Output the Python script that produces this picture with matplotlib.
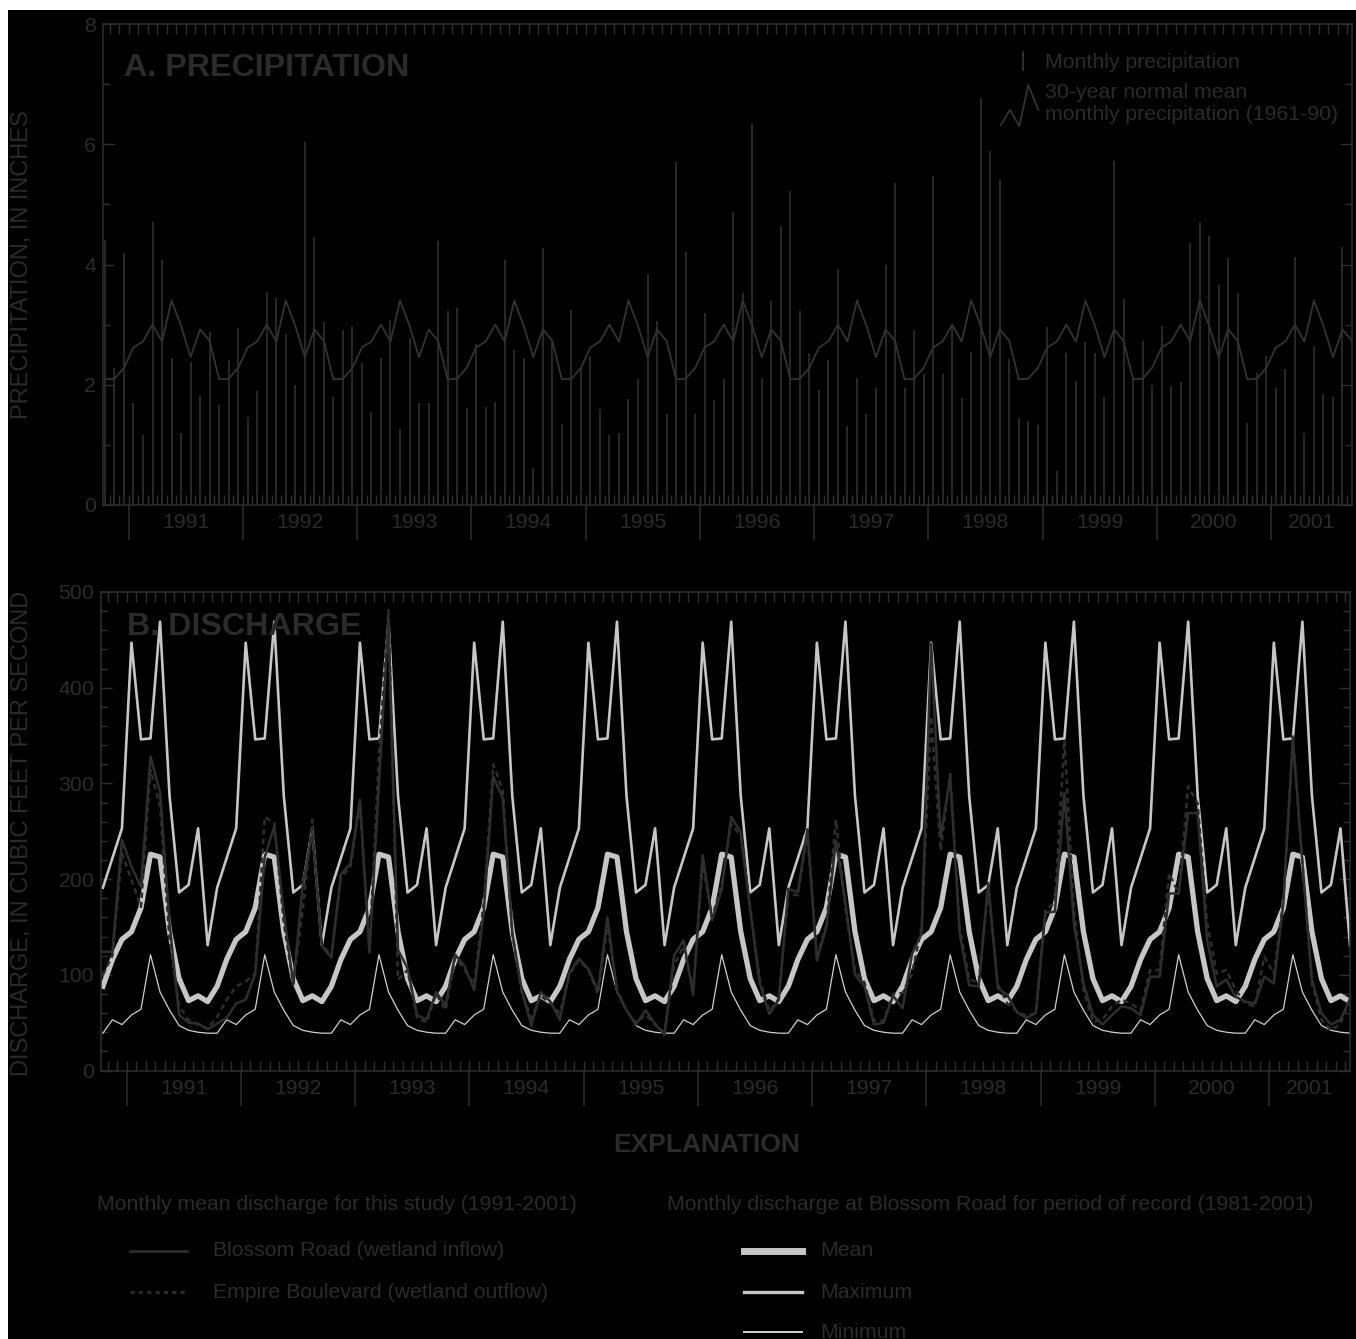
import numpy as np
import matplotlib
matplotlib.use('Agg')
import matplotlib.pyplot as plt
from matplotlib.patches import Rectangle
from matplotlib.lines import Line2D
import matplotlib.transforms as mtransforms

# ---------------- data ----------------
# month index: 0 = Oct 1990 ... 131 = Sep 2001
years = [1991, 1992, 1993, 1994, 1995, 1996, 1997, 1998, 1999, 2000, 2001]

precip = [4.40, 2.28, 4.19, 1.70, 1.17, 4.70, 4.08, 2.44, 1.20, 2.38, 1.81, 2.87,
          1.66, 2.41, 2.94, 1.47, 1.89, 3.54, 3.44, 2.84, 1.99, 6.04, 4.46, 3.04,
          1.79, 2.91, 2.98, 2.36, 1.55, 2.45, 3.08, 1.26, 2.77, 1.69, 1.69, 4.39,
          3.22, 3.28, 1.61, 2.68, 1.63, 1.71, 4.08, 2.57, 2.44, 0.62, 4.28, 2.72,
          1.35, 3.25, 2.29, 2.47, 1.59, 1.16, 1.19, 1.77, 2.09, 3.85, 3.06, 1.51,
          5.71, 4.21, 1.51, 3.19, 1.74, 2.09, 4.87, 3.52, 6.33, 2.11, 3.40, 4.64,
          5.23, 3.23, 2.52, 1.91, 2.41, 3.93, 1.32, 2.12, 1.52, 1.95, 4.00, 5.36,
          1.95, 2.91, 2.18, 5.47, 2.18, 3.00, 1.78, 2.54, 6.77, 5.89, 5.41, 2.43,
          1.44, 1.40, 1.33, 2.96, 0.57, 2.53, 2.07, 2.71, 2.52, 1.79, 5.72, 3.42,
          2.08, 2.73, 1.99, 2.97, 1.98, 2.04, 4.35, 4.70, 4.48, 3.66, 4.11, 3.53,
          1.36, 2.19, 2.47, 1.95, 2.26, 4.13, 1.20, 2.64, 1.85, 1.80, 4.29]

# 30-year normal mean monthly precipitation, Oct..Sep
normal_precip = [2.09, 2.10, 2.28, 2.62, 2.72, 3.00, 2.72, 3.40, 2.98, 2.46, 2.92, 2.73]

# period-of-record monthly discharge statistics at Blossom Road, Oct..Sep
record_max = [191, 222, 253, 447, 346, 347, 469, 287, 186, 194, 253, 131]
record_mean = [88, 116, 137, 145, 170, 226, 223, 145, 96, 73, 78, 72]
record_min = [39, 53, 48, 58, 64, 121, 82, 63, 47, 42, 40, 39]

blossom = [124, 124, 241, 213, 192, 328, 291, 154, 58, 50, 49, 43,
           49, 55, 70, 74, 101, 223, 255, 165, 90, 195, 250, 130,
           118, 205, 216, 283, 123, 300, 472, 126, 107, 58, 53, 82,
           68, 121, 109, 84, 165, 307, 285, 144, 84, 47, 82, 72,
           53, 102, 117, 106, 83, 160, 83, 63, 48, 63, 49, 37,
           120, 136, 79, 225, 157, 189, 265, 249, 168, 91, 59, 74,
           190, 186, 252, 115, 150, 240, 175, 100, 88, 48, 50, 78,
           65, 122, 143, 446, 244, 307, 143, 89, 88, 196, 86, 79,
           61, 55, 60, 165, 166, 290, 154, 91, 58, 48, 58, 67,
           65, 58, 98, 98, 185, 185, 269, 269, 136, 88, 95, 77,
           72, 70, 98, 91, 175, 347, 217, 95, 60, 48, 53, 75]

empire = [100, 120, 227, 199, 171, 314, 276, 136, 67, 53, 48, 44,
          56, 74, 88, 93, 101, 265, 258, 154, 91, 168, 262, 133,
          119, 202, 213, 279, 126, 330, 481, 95, 105, 55, 50, 80,
          63, 118, 105, 90, 175, 320, 293, 143, 80, 55, 78, 70,
          60, 100, 115, 105, 80, 150, 85, 62, 50, 58, 48, 40,
          110, 130, 85, 215, 160, 195, 258, 245, 170, 95, 62, 75,
          185, 183, 248, 120, 152, 262, 168, 105, 92, 52, 52, 80,
          81, 101, 150, 370, 230, 310, 150, 95, 92, 190, 90, 70,
          62, 57, 60, 168, 175, 345, 168, 84, 51, 53, 67, 74,
          70, 63, 105, 105, 206, 185, 297, 279, 154, 101, 105, 84,
          70, 67, 119, 101, 178, 349, 217, 91, 53, 42, 49, 74]

# ---------------- styling ----------------
W, H = 1356, 1339
plt.rcParams['font.family'] = ['Liberation Sans', 'DejaVu Sans']
TXT = '#2b2b2b'
DARK = '#2e2e2e'
LIGHT = '#c6c6c6'
FS = 15.3
FL = 15.35

def fx(x):
    return x / W

def fy(y):
    return 1 - y / H

fig = plt.figure(figsize=(W / 100, H / 100), dpi=100)
fig.patch.set_facecolor('white')
fig.add_artist(Rectangle((fx(8), 0), 1 - fx(8), fy(10), transform=fig.transFigure,
                         facecolor='black', edgecolor='none', zorder=-10))

ax1 = fig.add_axes([fx(103), fy(505), fx(1352) - fx(103), fy(24) - fy(505)])
ax2 = fig.add_axes([fx(101), fy(1070.5), fx(1350) - fx(101), fy(592) - fy(1070.5)])

n_months = len(blossom)
months = np.arange(n_months)
xmin, xmax = -0.2, 131.0
year_bounds = [2.5 + 12 * j for j in range(len(years))]
month_bounds = np.arange(0.5, 131, 1.0)

# ---- Panel A: precipitation ----
ax1.vlines(np.arange(len(precip)), 0, precip, color='#333333', lw=1.1)
normal_series = np.tile(normal_precip, n_months // 12)
ax1.plot(months, normal_series, color='#333333', lw=1.3)
ax1.set_ylim(0, 8)
ax1.set_yticks([0, 2, 4, 6, 8])
ax1.set_yticks([1, 3, 5, 7], minor=True)

# ---- Panel B: discharge ----
ax2.plot(months, np.tile(record_max, n_months // 12), color=LIGHT, lw=1.9, zorder=2)
ax2.plot(months, np.tile(record_mean, n_months // 12), color=LIGHT, lw=3.8, zorder=2)
ax2.plot(months, np.tile(record_min, n_months // 12), color='#d0d0d0', lw=0.9, zorder=2)
ax2.plot(months, empire, color=DARK, lw=1.8, linestyle=(0, (2.2, 1.6)), zorder=3)
ax2.plot(months, blossom, color=DARK, lw=1.8, zorder=3)
ax2.set_ylim(0, 500)
ax2.set_yticks(np.arange(0, 501, 100))
ax2.set_yticks(np.arange(0, 501, 20), minor=True)

for ax, ylab_y in ((ax1, 522), (ax2, 1088)):
    ax.set_facecolor('none')
    ax.set_xlim(xmin, xmax)
    for s in ax.spines.values():
        s.set_color(DARK)
        s.set_linewidth(1.1)
    ax.xaxis.remove_overlapping_locs = False
    ax.set_xticks(year_bounds)
    ax.set_xticks(month_bounds, minor=True)
    ax.tick_params(axis='x', which='major', direction='out', length=25, width=1.1,
                   color=DARK, bottom=True, top=False, labelbottom=False)
    ax.tick_params(axis='x', which='minor', direction='in', length=7, width=1.0,
                   color=DARK, bottom=True, top=True)
    ax.tick_params(axis='y', which='both', direction='in', left=True, right=True,
                   color=DARK, width=1.0, labelcolor=TXT, labelsize=FS, pad=5)
    ax.tick_params(axis='y', which='major', length=8)
    ax.tick_params(axis='y', which='minor', length=5)
    trans = mtransforms.blended_transform_factory(ax.transData, fig.transFigure)
    for j, yr in enumerate(years):
        lo = year_bounds[j]
        hi = min(lo + 12, xmax)
        ax.text((lo + hi) / 2, fy(ylab_y), str(yr), transform=trans, ha='center',
                va='center', fontsize=FS, color=TXT)

# ---- panel titles and axis labels ----
fig.text(fx(124), fy(76.5), 'A. PRECIPITATION', fontsize=23.2, fontweight='bold',
         color=TXT, ha='left', va='baseline')
fig.text(fx(127), fy(634.5), 'B. DISCHARGE', fontsize=23.2, fontweight='bold',
         color=TXT, ha='left', va='baseline')
fig.text(fx(22), fy(265), 'PRECIPITATION, IN INCHES', rotation=90, fontsize=17,
         color=TXT, ha='center', va='center')
fig.text(fx(22), fy(833), 'DISCHARGE, IN CUBIC FEET PER SECOND', rotation=90,
         fontsize=17, color=TXT, ha='center', va='center')

# ---- precipitation legend ----
fig.add_artist(Line2D([fx(1023), fx(1023)], [fy(52), fy(70)], transform=fig.transFigure,
                      color='#333333', lw=1.3))
fig.text(fx(1045), fy(62), 'Monthly precipitation', fontsize=FS, color=TXT,
         ha='left', va='center')
zx = np.array([1000.7, 1010, 1019.3, 1028.3, 1038.3])
zy = np.array([125, 110, 126, 85, 110])
fig.add_artist(Line2D(fx(zx), fy(zy), transform=fig.transFigure, color='#333333', lw=1.3))
fig.text(fx(1045), fy(93), '30-year normal mean', fontsize=FS, color=TXT,
         ha='left', va='center')
fig.text(fx(1045), fy(115), 'monthly precipitation (1961-90)', fontsize=FS, color=TXT,
         ha='left', va='center')

# ---- explanation ----
fig.text(fx(707), fy(1152), 'EXPLANATION', fontsize=19, fontweight='bold', color=TXT,
         ha='center', va='baseline')
fig.text(fx(97), fy(1205), 'Monthly mean discharge for this study (1991-2001)',
         fontsize=FL, color=TXT, ha='left', va='center')
fig.text(fx(667), fy(1205), 'Monthly discharge at Blossom Road for period of record (1981-2001)',
         fontsize=FL, color=TXT, ha='left', va='center')

def legend_line(x0, x1, y, **kw):
    fig.add_artist(Line2D([fx(x0), fx(x1)], [fy(y), fy(y)], transform=fig.transFigure, **kw))

legend_line(130, 187, 1251, color=DARK, lw=2.0)
fig.text(fx(213), fy(1251), 'Blossom Road (wetland inflow)', fontsize=FL, color=TXT,
         ha='left', va='center')
legend_line(130, 187, 1292, color=DARK, lw=2.0, linestyle=(0, (1.5, 1.5)))
fig.text(fx(213), fy(1292), 'Empire Boulevard (wetland outflow)', fontsize=FL, color=TXT,
         ha='left', va='center')
legend_line(744, 802, 1251, color=LIGHT, lw=5.0)
fig.text(fx(820), fy(1251), 'Mean', fontsize=FL, color=TXT, ha='left', va='center')
legend_line(744, 802, 1292, color=LIGHT, lw=2.4)
fig.text(fx(820), fy(1292), 'Maximum', fontsize=FL, color=TXT, ha='left', va='center')
legend_line(744, 802, 1332, color='#d0d0d0', lw=1.4)
fig.text(fx(820), fy(1332), 'Minimum', fontsize=FL, color=TXT, ha='left', va='center')

fig.savefig('out.png', dpi=100, facecolor=fig.get_facecolor())
